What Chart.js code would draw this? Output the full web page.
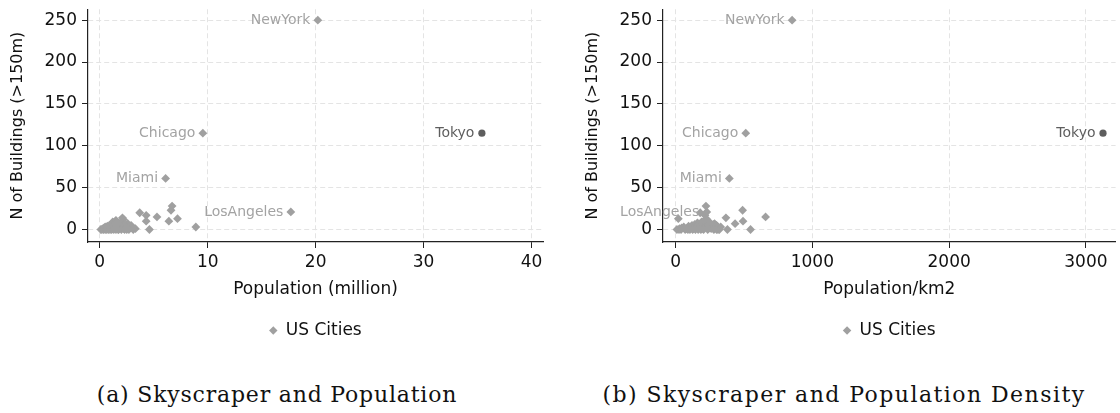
<!DOCTYPE html>
<html>
<head>
<meta charset="utf-8">
<title>Skyscraper and Population</title>
<script src="https://cdn.jsdelivr.net/npm/chart.js@4.4.0/dist/chart.umd.min.js"></script>
<style>
    body { margin: 0; background: #fff; width: 1120px; height: 413px; overflow: hidden; position: relative; }
    .panel { position: absolute; top: 0; }
    .caption { position: absolute; top: 382px; height: 26px; line-height: 26px; font-family: "DejaVu Serif", serif; font-size: 22px; color: #111; white-space: nowrap; transform: translateX(-50%); }
</style>
</head>
<body>
<div class="panel" style="left:0px"><canvas id="popChart" width="560" height="349"></canvas></div>
<div class="panel" style="left:560px"><canvas id="densChart" width="560" height="349"></canvas></div>
<div class="caption" style="left:277px; letter-spacing:0.8px">(a) Skyscraper and Population</div>
<div class="caption" style="left:844px; letter-spacing:1.45px">(b) Skyscraper and Population Density</div>

<script>
// date : orase americane (cladiri > 150m, populatie in milioane, densitate pe km2)
var usNames = ['NewYork', 'Chicago', 'Miami', 'LosAngeles'];
var usBuildings = [250, 115, 61, 21,
    28, 23, 20, 17, 15, 14, 13, 10, 10, 9, 7, 7, 5, 3, 1, 0, 0, 0,
    12, 11, 9, 8, 8, 6, 6, 5, 5, 4, 4, 4, 3, 3, 3, 2, 2, 2, 2,
    1, 1, 1, 1, 1, 0, 0, 0, 0, 0, 0, 0, 0, 0, 0, 0, 0, 0, 0, 0];
var usPopulation = [20.2, 9.55, 6.1, 17.7,
    6.7, 6.6, 3.7, 4.3, 5.3, 2.1, 7.2, 6.4, 4.3, 1.4, 2.6, 1.9, 2.9, 8.9, 3.3, 4.6, 2.5, 1.7,
    2.2, 1.5, 1.2, 2.0, 1.6, 1.1, 2.3, 0.9, 1.8, 0.7, 1.3, 2.4, 0.5, 1.0, 1.9, 0.4, 0.8, 1.4, 2.1,
    0.3, 0.6, 1.2, 1.6, 2.2, 0.1, 0.2, 0.35, 0.5, 0.65, 0.8, 0.95, 1.1, 1.3, 1.5, 1.75, 2.0, 2.3, 2.7, 3.1];
var usDensity = [852, 513, 393, 228,
    222, 490, 180, 215, 658, 368, 20, 493, 240, 200, 435, 285, 300, 330, 260, 548, 379, 310,
    230, 215, 190, 250, 160, 140, 275, 120, 210, 95, 180, 290, 60, 150, 225, 45, 110, 170, 260,
    30, 80, 130, 200, 240, 10, 25, 40, 70, 90, 105, 125, 145, 165, 185, 205, 235, 300, 320, 280];

var tokyoName = 'Tokyo';
var tokyoBuildings = 115;
var tokyoPopulation = 35.4;
var tokyoDensity = 3125;

// valorile de pe axe
var yTicks = [0, 50, 100, 150, 200, 250];
var popTicks = [0, 10, 20, 30, 40];
var densTicks = [0, 1000, 2000, 3000];

var fontSans = '"DejaVu Sans", sans-serif';

// eticheta scrisa la stanga punctului
var pointLabels = {
    id: 'pointLabels',
    afterDatasetsDraw: function (chart) {
        var ctx = chart.ctx;
        chart.data.datasets.forEach(function (ds, i) {
            if (!ds.names) return;
            chart.getDatasetMeta(i).data.forEach(function (pt, j) {
                if (!ds.names[j]) return;
                ctx.save();
                ctx.font = '14px ' + fontSans;
                ctx.fillStyle = ds.labelColor;
                ctx.textAlign = 'right';
                ctx.textBaseline = 'middle';
                ctx.fillText(ds.names[j], pt.x - 7.5, pt.y);
                ctx.restore();
            });
        });
    }
};

function makePoints(xs, ys) {
    return xs.map(function (x, i) { return {x: x, y: ys[i]}; });
}

function fixedTicks(values) {
    return function (scale) {
        scale.ticks = values.map(function (v) { return {value: v}; });
    };
}

function drawPanel(canvasId, xValues, tokyoX, xTitle, xMin, xMax, xTicks, padLeft, padRight) {
    var ctx = document.getElementById(canvasId).getContext('2d');
    return new Chart(ctx, {
        type: 'scatter',
        data: {
            datasets: [{
                label: 'US Cities',
                data: makePoints(xValues, usBuildings),
                names: usNames,
                labelColor: '#a3a3a3',
                pointStyle: 'rectRot',
                pointRadius: 4.4,
                pointHoverRadius: 4.4,
                backgroundColor: '#a0a0a0',
                borderColor: '#a0a0a0',
                borderWidth: 0
            }, {
                label: tokyoName,
                data: [{x: tokyoX, y: tokyoBuildings}],
                names: [tokyoName],
                labelColor: '#5e5e5e',
                pointStyle: 'circle',
                pointRadius: 3.6,
                backgroundColor: '#5e5e5e',
                borderColor: '#5e5e5e',
                borderWidth: 0
            }]
        },
        options: {
            responsive: false,
            animation: false,
            layout: {
                padding: {left: padLeft, right: padRight, top: 4, bottom: 0}
            },
            plugins: {
                tooltip: {enabled: false},
                legend: {
                    position: 'bottom',
                    fullSize: false,
                    labels: {
                        usePointStyle: true,
                        boxWidth: 8,
                        boxHeight: 6,
                        padding: 22,
                        color: '#111',
                        font: {family: fontSans, size: 17},
                        filter: function (item) { return item.datasetIndex === 0; }
                    }
                }
            },
            scales: {
                x: {
                    type: 'linear',
                    min: xMin,
                    max: xMax,
                    afterFit: function (scale) { scale.height = 58; },
                    afterBuildTicks: fixedTicks(xTicks),
                    ticks: {
                        padding: 4,
                        maxRotation: 0,
                        autoSkip: false,
                        color: '#111',
                        font: {family: fontSans, size: 17},
                        callback: function (v) { return String(v); }
                    },
                    grid: {
                        color: '#e4e4e4',
                        tickColor: '#222',
                        tickLength: 6,
                        tickBorderDash: []
                    },
                    border: {color: '#222', width: 1.2, dash: [5, 3]},
                    title: {
                        display: true,
                        text: xTitle,
                        color: '#111',
                        padding: 0,
                        font: {family: fontSans, size: 17}
                    }
                },
                y: {
                    type: 'linear',
                    min: -14.9,
                    max: 263,
                    afterFit: function (scale) { scale.width = 88; },
                    afterBuildTicks: fixedTicks(yTicks),
                    ticks: {
                        padding: 5,
                        color: '#111',
                        font: {family: fontSans, size: 17, lineHeight: 0.5}
                    },
                    grid: {
                        color: '#e4e4e4',
                        tickColor: '#222',
                        tickLength: 6,
                        tickBorderDash: []
                    },
                    border: {color: '#222', width: 1.2, dash: [5, 3]},
                    title: {
                        display: true,
                        text: 'N of Buildings (>150m)',
                        color: '#111',
                        padding: {top: 8, bottom: 0},
                        font: {family: fontSans, size: 16}
                    }
                }
            }
        },
        plugins: [pointLabels]
    });
}

drawPanel('popChart', usPopulation, tokyoPopulation, 'Population (million)', -1.09, 41.06, popTicks, 0, 17);
drawPanel('densChart', usDensity, tokyoDensity, 'Population/km2', -92, 3217, densTicks, 15, 0);
</script>
</body>
</html>
